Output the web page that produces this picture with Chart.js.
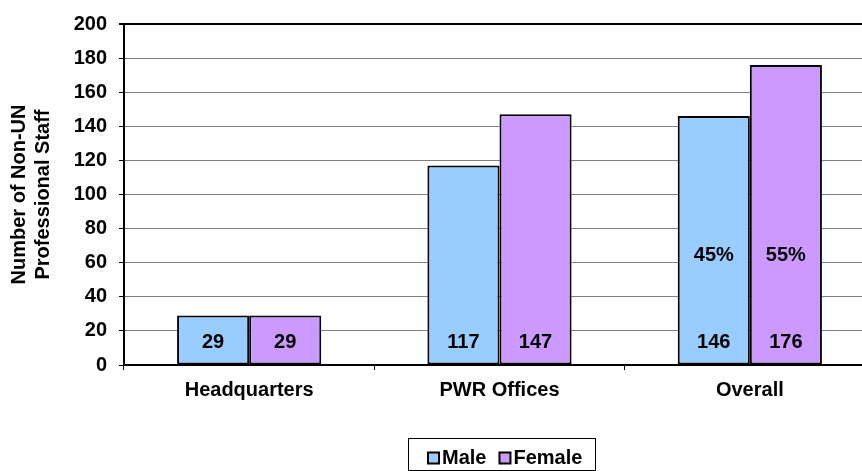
<!DOCTYPE html>
<html>
<head>
<meta charset="utf-8">
<script src="https://cdn.jsdelivr.net/npm/chart.js@4/dist/chart.umd.min.js"></script>
<style>
  html, body { margin: 0; padding: 0; background: #fff; overflow: hidden; }
  #wrap { width: 862px; height: 471px; overflow: hidden; }
  canvas { display: block; }
</style>
</head>
<body>
<div id="wrap"><canvas id="staffChart" width="880" height="471"></canvas></div>
<script>
const categories = ['Headquarters', 'PWR Offices', 'Overall'];
const maleValues = [29, 117, 146];
const femaleValues = [29, 147, 176];
const malePercent = ['', '', '45%'];
const femalePercent = ['', '', '55%'];
const yTicks = [0, 20, 40, 60, 80, 100, 120, 140, 160, 180, 200];

const FONT = '"Liberation Sans", Arial, sans-serif';

// value labels near the bar base, share labels higher up
const barLabels = {
  id: 'barLabels',
  afterDatasetsDraw( chart ) {
    const ctx = chart.ctx;
    const base = chart.scales.y.getPixelForValue( 0 );
    ctx.save();
    ctx.font = 'bold 20px ' + FONT;
    ctx.fillStyle = '#000';
    ctx.textAlign = 'center';
    ctx.textBaseline = 'middle';
    chart.data.datasets.forEach( ( ds, i ) => {
      chart.getDatasetMeta( i ).data.forEach( ( bar, j ) => {
        ctx.fillText( String( ds.data[j] ), bar.x, base - 23 );
        if ( ds.percent[j] ) {
          ctx.fillText( ds.percent[j], bar.x, base - 110 );
        }
      } );
    } );
    ctx.restore();
  },
};

// boxed legend like the spreadsheet one
const boxLegend = {
  id: 'boxLegend',
  afterDraw( chart ) {
    const ctx = chart.ctx;
    ctx.save();
    ctx.font = 'bold 20px ' + FONT;
    const sq = 11, gap = 3, itemGap = 13, padL = 20, padR = 13;
    const items = chart.data.datasets.map( ds => ( {
      label: ds.label,
      color: ds.backgroundColor,
      w: ctx.measureText( ds.label ).width,
    } ) );
    const content = items.reduce( ( s, it ) => s + sq + gap + it.w, 0 ) + itemGap * ( items.length - 1 );
    const boxW = content + padL + padR;
    const cx = 501.5, top = 438, h = 32;
    const left = Math.round( cx - boxW / 2 );
    ctx.strokeStyle = '#000';
    ctx.lineWidth = 1;
    ctx.strokeRect( left + 0.5, top + 0.5, Math.round( boxW ), h );
    let x = left + padL;
    const cy = top + 20;
    ctx.textBaseline = 'middle';
    ctx.textAlign = 'left';
    items.forEach( it => {
      ctx.fillStyle = it.color;
      ctx.fillRect( x, cy - sq / 2, sq, sq );
      ctx.lineWidth = 2;
      ctx.strokeRect( x, cy - sq / 2, sq, sq );
      ctx.fillStyle = '#000';
      ctx.fillText( it.label, x + sq + gap, cy );
      x += sq + gap + it.w + itemGap;
    } );
    ctx.restore();
  },
};

new Chart( document.getElementById( 'staffChart' ), {
  type: 'bar',
  data: {
    labels: categories,
    datasets: [
      {
        label: 'Male',
        data: maleValues,
        percent: malePercent,
        backgroundColor: '#99CCFF',
        borderColor: '#000',
        borderWidth: 2,
        borderSkipped: false,
      },
      {
        label: 'Female',
        data: femaleValues,
        percent: femalePercent,
        backgroundColor: '#CC99FF',
        borderColor: '#000',
        borderWidth: 2,
        borderSkipped: false,
      },
    ],
  },
  options: {
    responsive: false,
    animation: false,
    layout: {
      padding: { top: 23, right: 5, left: 0, bottom: 0 },
    },
    categoryPercentage: 0.576,
    barPercentage: 1.0,
    scales: {
      x: {
        afterFit: scale => { scale.height = 106; },
        grid: {
          display: true,
          drawOnChartArea: false,
          drawTicks: true,
          tickLength: 5,
          color: '#000',
        },
        border: { display: true, color: '#000', width: 2 },
        ticks: {
          color: '#000',
          padding: 8,
          font: { family: FONT, size: 20, weight: 'bold' },
        },
      },
      y: {
        min: 0,
        max: 200,
        afterFit: scale => { scale.width = 124; },
        afterBuildTicks: scale => { scale.ticks = yTicks.map( v => ( { value: v } ) ); },
        grid: {
          color: ctx => ( ctx.tick && ctx.tick.value === 200 ? '#000' : '#808080' ),
          lineWidth: ctx => ( ctx.tick && ctx.tick.value === 200 ? 2 : 1 ),
          tickColor: '#000',
          tickLength: 5,
        },
        border: { display: true, color: '#000', width: 2 },
        ticks: {
          color: '#000',
          padding: 12,
          font: { family: FONT, size: 20, weight: 'bold' },
        },
        title: {
          display: true,
          text: ['Number of Non-UN', 'Professional Staff'],
          color: '#000',
          padding: { top: 7, bottom: 0 },
          font: { family: FONT, size: 20, weight: 'bold', lineHeight: 1.2 },
        },
      },
    },
    plugins: {
      legend: { display: false },
      tooltip: { enabled: false },
    },
  },
  plugins: [barLabels, boxLegend],
} );
</script>
</body>
</html>
